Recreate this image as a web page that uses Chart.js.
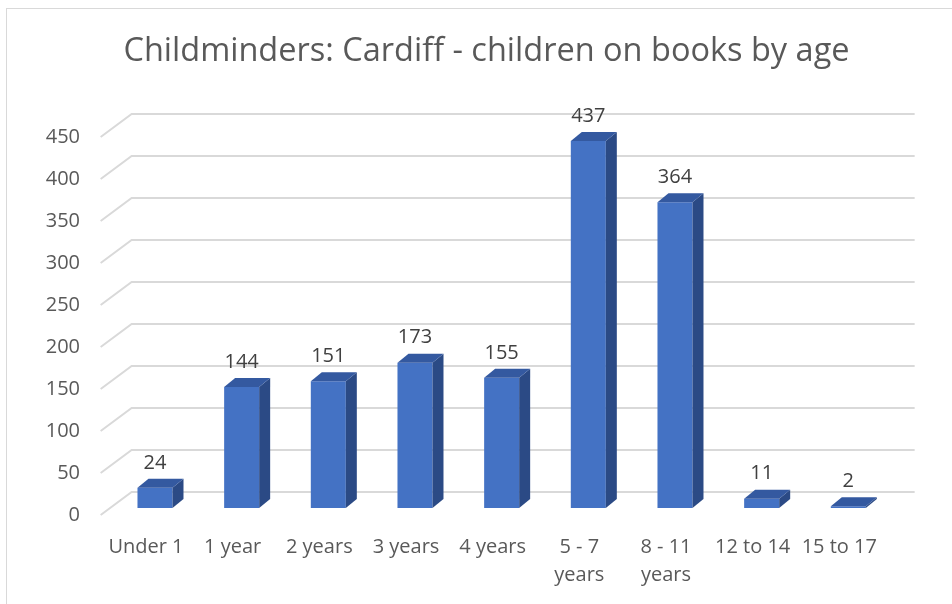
<!DOCTYPE html>
<html>
<head>
<meta charset="utf-8">
<script src="https://cdn.jsdelivr.net/npm/chart.js@4.4.1/dist/chart.umd.min.js"></script>
<style>
  html, body { margin: 0; padding: 0; background: #fff; }
  #wrap { position: relative; width: 952px; height: 604px; }
</style>
</head>
<body>
<div id="wrap"><canvas id="ageChart"></canvas></div>
<script>
const categories = ['Under 1', '1 year', '2 years', '3 years', '4 years', ['5 - 7', 'years'], ['8 - 11', 'years'], '12 to 14', '15 to 17'];
const children = [24, 144, 151, 173, 155, 437, 364, 11, 2];
const yTicks = [0, 50, 100, 150, 200, 250, 300, 350, 400, 450];

// fake 3D: back wall offset, where the bars sit in depth, and bar depth
const WALL = { dx: 31, dy: -23 };
const BAR_SHIFT = { dx: 9, dy: -7 };
const BAR_DEPTH = { dx: 11, dy: -9 };

const frame = {
  id: 'frame',
  beforeDraw(chart) {
    const ctx = chart.ctx;
    ctx.save();
    ctx.strokeStyle = '#d9d9d9';
    ctx.lineWidth = 1;
    ctx.strokeRect(6.5, 8.5, 1000, 1000);
    ctx.restore();
  }
};

const wallGrid = {
  id: 'wallGrid',
  beforeDatasetsDraw(chart) {
    const ctx = chart.ctx;
    const area = chart.chartArea;
    const y = chart.scales.y;
    const x0 = area.left - 2;
    ctx.save();
    ctx.strokeStyle = '#d9d9d9';
    ctx.lineWidth = 2;
    yTicks.forEach(v => {
      const py = y.getPixelForValue(v);
      ctx.beginPath();
      ctx.moveTo(x0, py);
      ctx.lineTo(x0 + WALL.dx, py + WALL.dy);
      ctx.lineTo(area.right + WALL.dx + 1, py + WALL.dy);
      ctx.stroke();
    });
    ctx.restore();
    // front faces are drawn by chart.js, pushed back into the box
    ctx.save();
    ctx.translate(BAR_SHIFT.dx, BAR_SHIFT.dy);
  },
  afterDatasetsDraw(chart) {
    const ctx = chart.ctx;
    ctx.restore();
    const meta = chart.getDatasetMeta(0);
    ctx.save();
    meta.data.forEach((bar, i) => {
      const p = bar.getProps(['x', 'y', 'base', 'width'], true);
      const l = p.x - p.width / 2 + BAR_SHIFT.dx;
      const r = p.x + p.width / 2 + BAR_SHIFT.dx;
      const t = p.y + BAR_SHIFT.dy;
      const b = p.base + BAR_SHIFT.dy;
      // side
      ctx.fillStyle = '#2b4a85';
      ctx.beginPath();
      ctx.moveTo(r, t);
      ctx.lineTo(r + BAR_DEPTH.dx, t + BAR_DEPTH.dy);
      ctx.lineTo(r + BAR_DEPTH.dx, b + BAR_DEPTH.dy);
      ctx.lineTo(r, b);
      ctx.closePath();
      ctx.fill();
      // top
      ctx.fillStyle = '#3459a0';
      ctx.beginPath();
      ctx.moveTo(l, t);
      ctx.lineTo(l + BAR_DEPTH.dx, t + BAR_DEPTH.dy);
      ctx.lineTo(r + BAR_DEPTH.dx, t + BAR_DEPTH.dy);
      ctx.lineTo(r, t);
      ctx.closePath();
      ctx.fill();
      // value label
      ctx.fillStyle = '#404040';
      ctx.font = '20px "Open Sans"';
      ctx.textAlign = 'center';
      ctx.textBaseline = 'middle';
      ctx.fillText(String(children[i]), (l + r) / 2, t - 25);
    });
    ctx.restore();
  }
};

new Chart(document.getElementById('ageChart'), {
  type: 'bar',
  data: {
    labels: categories,
    datasets: [{
      data: children,
      backgroundColor: '#4472c4',
      borderWidth: 0,
      categoryPercentage: 1,
      barPercentage: 0.404
    }]
  },
  options: {
    responsive: true,
    maintainAspectRatio: false,
    animation: false,
    layout: { padding: { top: 0, right: 0, bottom: 0, left: 21 } },
    plugins: {
      legend: { display: false },
      tooltip: { enabled: false },
      title: {
        display: true,
        text: 'Childminders: Cardiff - children on books by age',
        color: '#595959',
        font: { family: '"Open Sans"', size: 32.5, weight: 'normal', lineHeight: 1.2 },
        padding: { top: 32.5, bottom: 65.5 }
      }
    },
    scales: {
      x: {
        grid: { display: false, drawTicks: false },
        border: { display: false },
        ticks: {
          color: '#595959',
          font: { family: '"Open Sans"', size: 20, lineHeight: 1.4 },
          padding: 18,
          maxRotation: 0,
          autoSkip: false
        },
        afterFit(scale) { scale.height = 89; }
      },
      y: {
        min: 0,
        max: 450,
        grid: { display: false, drawTicks: false },
        border: { display: false },
        afterBuildTicks(scale) { scale.ticks = yTicks.map(v => ({ value: v })); },
        ticks: {
          color: '#595959',
          font: { family: '"Open Sans"', size: 20 },
          padding: 22.65
        },
        afterFit(scale) { scale.width = 81.65; }
      },
      // empty right-hand axis, only there to reserve room for the back wall
      yRight: {
        position: 'right',
        min: 0,
        max: 450,
        grid: { display: false, drawTicks: false },
        border: { display: false },
        ticks: { display: false },
        afterFit(scale) { scale.width = 69.35; }
      }
    }
  },
  plugins: [frame, wallGrid]
});
</script>
</body>
</html>
